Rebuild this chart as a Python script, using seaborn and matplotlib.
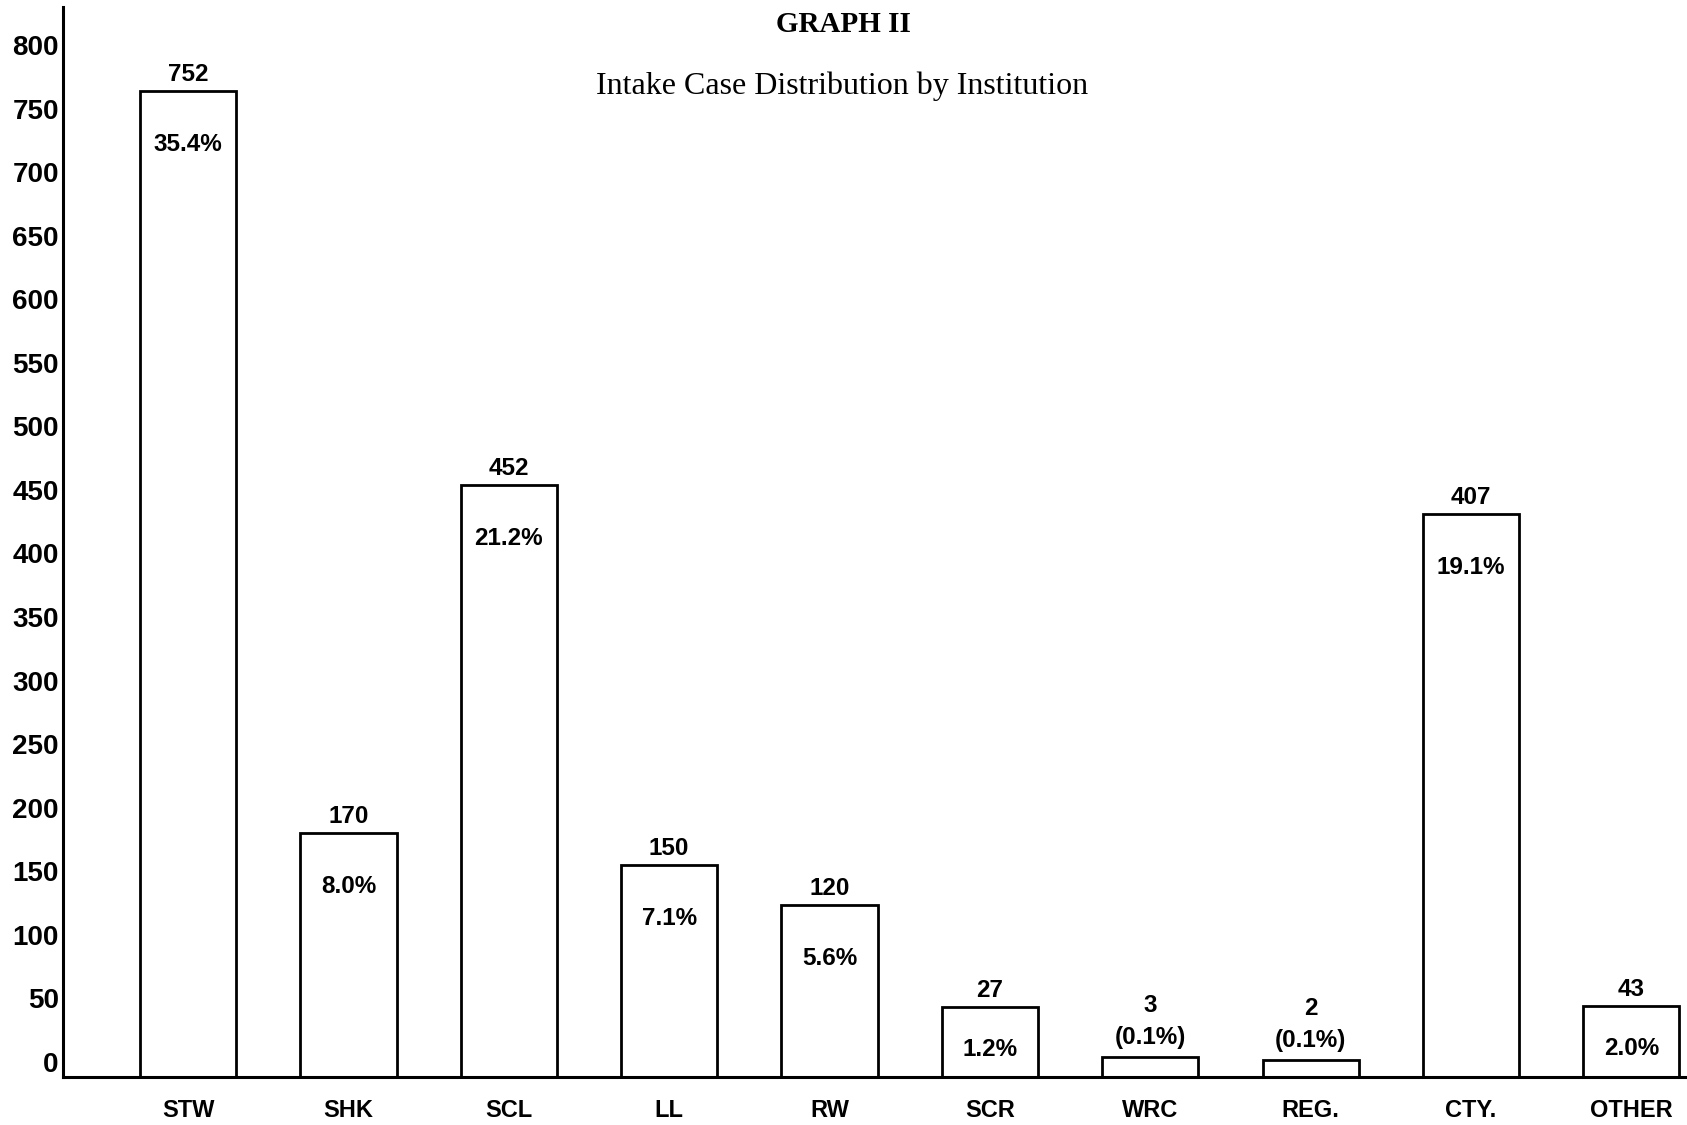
import matplotlib
matplotlib.use("Agg")
import matplotlib.pyplot as plt
import pandas as pd
import seaborn as sns

# Institutions and the numbers printed on the chart
institutions = ["STW", "SHK", "SCL", "LL", "RW", "SCR", "WRC", "REG.", "CTY.", "OTHER"]
case_labels = [752, 170, 452, 150, 120, 27, 3, 2, 407, 43]
percents = ["35.4%", "8.0%", "21.2%", "7.1%", "5.6%", "1.2%", "(0.1%)", "(0.1%)", "19.1%", "2.0%"]
# bar heights as drafted in the original (read against the y scale)
bar_heights = [764, 180, 454, 155, 123, 43, 3.7, 1.3, 431, 44]
y_ticks = list(range(0, 801, 50))

df = pd.DataFrame({"institution": institutions, "height": bar_heights,
                   "label": case_labels, "pct": percents})

sns.set_theme(style="white")
plt.rcParams["font.family"] = ["Liberation Sans", "DejaVu Sans"]
plt.rcParams["text.color"] = "black"
plt.rcParams["xtick.color"] = "black"
plt.rcParams["ytick.color"] = "black"
serif = ["Liberation Serif", "DejaVu Serif"]

fig = plt.figure(figsize=(16.87, 11.25), dpi=100)
ax = fig.add_axes([0.0373, 0.0427, 0.963, 0.951])

sns.barplot(data=df, x="institution", y="height", color="white", edgecolor="black",
            linewidth=2.0, width=0.6, saturation=1, ax=ax)

y_min, y_max = -12, 830
ax.set_ylim(y_min, y_max)
ax.set_xlim(-0.78, 9.35)

# the drafted bars stand on the baseline, a little below the 0 tick
for p in ax.patches:
    top = p.get_y() + p.get_height()
    p.set_y(y_min)
    p.set_height(top - y_min)

label_kw = dict(ha="center", va="center", fontsize=17.5, fontweight="bold")
for i, row in df.iterrows():
    h = row["height"]
    if h < 10:
        ax.annotate(row["pct"], (i, h), xytext=(0, 14), textcoords="offset points", **label_kw)
        ax.annotate(str(row["label"]), (i, h), xytext=(0, 37), textcoords="offset points", **label_kw)
    else:
        ax.annotate(str(row["label"]), (i, h), xytext=(0, 12), textcoords="offset points", **label_kw)
        drop = min(42, 0.6 * (h - y_min))
        ax.text(i, h - drop, row["pct"], **label_kw)

ax.set_yticks(y_ticks)
ax.set_yticklabels([str(t) for t in y_ticks], fontsize=20, fontweight="bold")
ax.set_xticks(range(len(institutions)))
ax.set_xticklabels(institutions, fontsize=17, fontweight="bold")
ax.tick_params(axis="y", length=0, pad=3)
ax.tick_params(axis="x", length=0, pad=16)
ax.set_xlabel("")
ax.set_ylabel("")

sns.despine(ax=ax)
for side in ["left", "bottom"]:
    ax.spines[side].set_color("black")
    ax.spines[side].set_linewidth(2.2)

fig.text(843 / 1687, 1 - 24 / 1125, "GRAPH II", ha="center", va="center",
         fontsize=21, fontweight="bold", family=serif)
fig.text(842 / 1687, 1 - 86 / 1125, "Intake Case Distribution by Institution",
         ha="center", va="center", fontsize=23, family=serif)

fig.savefig("out.png", dpi=100)
